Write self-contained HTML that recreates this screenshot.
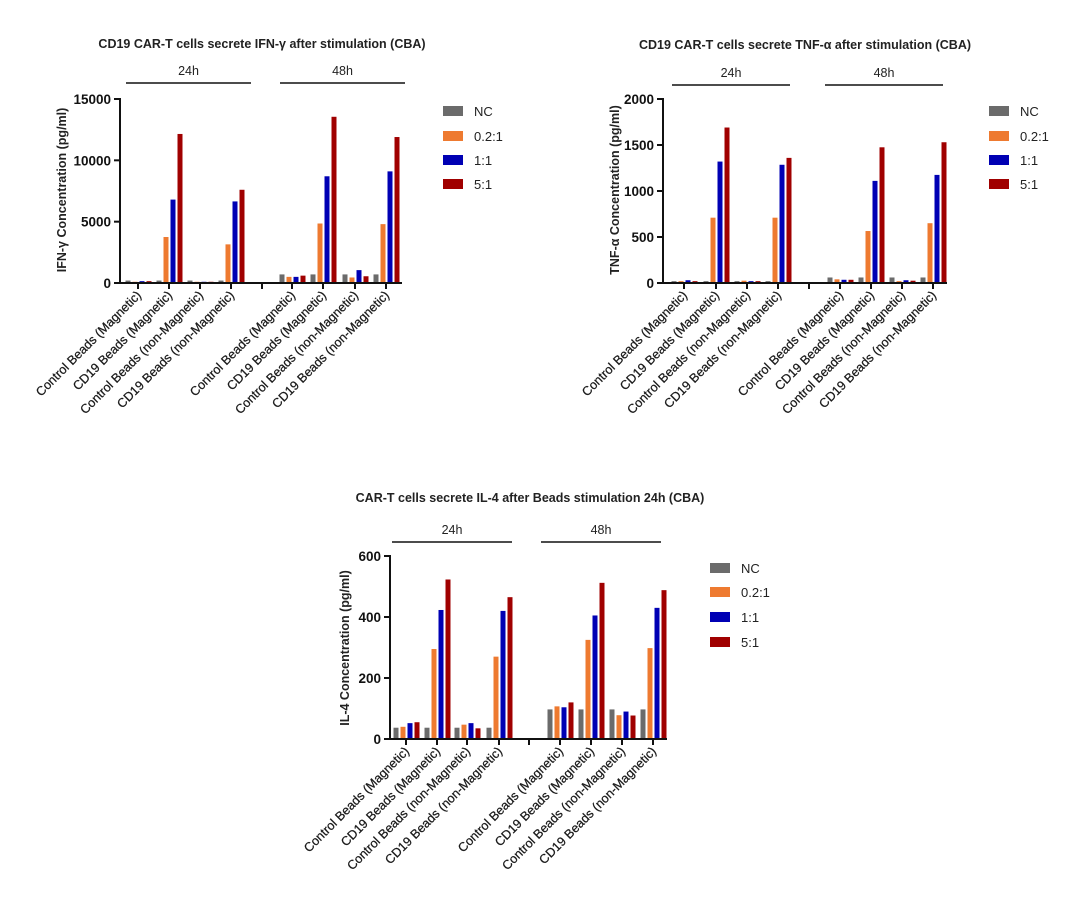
<!DOCTYPE html>
<html><head><meta charset="utf-8"><style>
html,body{margin:0;padding:0;background:#fff;}
svg{display:block;font-family:"Liberation Sans",Arial,sans-serif;}
</style></head><body>
<svg id="s" width="1080" height="916" viewBox="0 0 1080 916" xmlns="http://www.w3.org/2000/svg">
<rect width="1080" height="916" fill="#fff"/>
<text x="262" y="48" font-size="12.5" font-weight="bold" text-anchor="middle" fill="#222">CD19 CAR-T cells secrete IFN-γ after stimulation (CBA)</text>
<text x="805" y="49" font-size="12.5" font-weight="bold" text-anchor="middle" fill="#222">CD19 CAR-T cells secrete TNF-α after stimulation (CBA)</text>
<text x="530" y="502" font-size="12.5" font-weight="bold" text-anchor="middle" fill="#222">CAR-T cells secrete IL-4 after Beads stimulation 24h (CBA)</text>
<text transform="translate(66,190) rotate(-90)" font-size="12.5" font-weight="bold" text-anchor="middle" fill="#222">IFN-γ Concentration (pg/ml)</text>
<text transform="translate(619,190) rotate(-90)" font-size="12.5" font-weight="bold" text-anchor="middle" fill="#222">TNF-α Concentration (pg/ml)</text>
<text transform="translate(349,648) rotate(-90)" font-size="12.5" font-weight="bold" text-anchor="middle" fill="#222">IL-4 Concentration (pg/ml)</text>
<g id="g"></g>
</svg>
<script>
var C=["#6b6b6b","#ee7a30","#0000b4","#a00000"];
var L=["Control Beads (Magnetic)","CD19 Beads (Magnetic)","Control Beads (non-Magnetic)","CD19 Beads (non-Magnetic)"];
var charts=[
{ax:120,top:99,y0:283,xe:402,max:15000,ticks:[0,5000,10000,15000],c:[138,169,200,231,292,323,355,386],gap:262,b1:[126,251],b2:[280,405],by:83,lx:443,ly:[111,136,160,184],
d:[[200,100,150,150],[200,3750,6800,12150],[200,100,100,100],[200,3150,6650,7600],[700,500,500,600],[700,4850,8700,13550],[700,450,1050,550],[700,4800,9100,11900]]},
{ax:663,top:99,y0:283,xe:947,max:2000,ticks:[0,500,1000,1500,2000],c:[684,716,747,778,840,871,902,933],gap:809,b1:[672,790],b2:[825,943],by:85,lx:989,ly:[111,136,160,184],
d:[[20,20,30,20],[20,710,1320,1690],[20,25,20,20],[20,710,1285,1360],[60,40,35,35],[60,565,1110,1475],[60,20,30,25],[60,650,1175,1530]]},
{ax:390,top:556,y0:739,xe:667,max:600,ticks:[0,200,400,600],c:[406,437,467,499,560,591,622,653],gap:529,b1:[392,512],b2:[541,661],by:542,lx:710,ly:[568,592,617,642],
d:[[37,40,52,55],[37,295,423,523],[37,47,52,35],[37,270,420,465],[97,107,104,120],[97,325,405,512],[97,78,90,77],[97,298,430,488]]}];
var LG=["NC","0.2:1","1:1","5:1"];
var h="";
charts.forEach(function(ch){
 var H=ch.y0-ch.top;
 ch.d.forEach(function(g,i){g.forEach(function(v,k){var bh=v/ch.max*H;var x=ch.c[i]-12.5+k*7;
  h+='<rect x="'+x+'" y="'+(ch.y0-bh)+'" width="5" height="'+bh+'" fill="'+C[k]+'"/>';});});
 h+='<line x1="'+ch.ax+'" y1="'+(ch.top-1)+'" x2="'+ch.ax+'" y2="'+(ch.y0+1)+'" stroke="#111" stroke-width="2"/>';
 h+='<line x1="'+(ch.ax-1)+'" y1="'+ch.y0+'" x2="'+ch.xe+'" y2="'+ch.y0+'" stroke="#111" stroke-width="2"/>';
 ch.ticks.forEach(function(t){var y=ch.y0-t/ch.max*H;
  h+='<line x1="'+(ch.ax-6)+'" y1="'+y+'" x2="'+ch.ax+'" y2="'+y+'" stroke="#111" stroke-width="2"/>';
  h+='<text x="'+(ch.ax-9)+'" y="'+(y+5)+'" font-size="13.5" font-weight="bold" text-anchor="end" fill="#111">'+t+'</text>';});
 ch.c.concat([ch.gap]).forEach(function(x){h+='<line x1="'+x+'" y1="'+ch.y0+'" x2="'+x+'" y2="'+(ch.y0+6)+'" stroke="#111" stroke-width="2"/>';});
 ch.c.forEach(function(x,i){var tx=x+4,ty=ch.y0+13;
  h+='<text transform="translate('+tx+','+ty+') rotate(-45)" font-size="12.6" text-anchor="end" fill="#1a1a1a" stroke="#1a1a1a" stroke-width="0.25">'+L[i%4]+'</text>';});
 [[ch.b1,"24h"],[ch.b2,"48h"]].forEach(function(b){
  h+='<line x1="'+b[0][0]+'" y1="'+ch.by+'" x2="'+b[0][1]+'" y2="'+ch.by+'" stroke="#111" stroke-width="1.5"/>';
  h+='<text x="'+((b[0][0]+b[0][1])/2)+'" y="'+(ch.by-8)+'" font-size="12.5" text-anchor="middle" fill="#222">'+b[1]+'</text>';});
 ch.ly.forEach(function(y,k){
  h+='<rect x="'+ch.lx+'" y="'+(y-5)+'" width="20" height="10" fill="'+C[k]+'"/>';
  h+='<text x="'+(ch.lx+31)+'" y="'+(y+5)+'" font-size="13" fill="#222">'+LG[k]+'</text>';});
});
document.getElementById("g").innerHTML=h;
</script>
</body></html>
